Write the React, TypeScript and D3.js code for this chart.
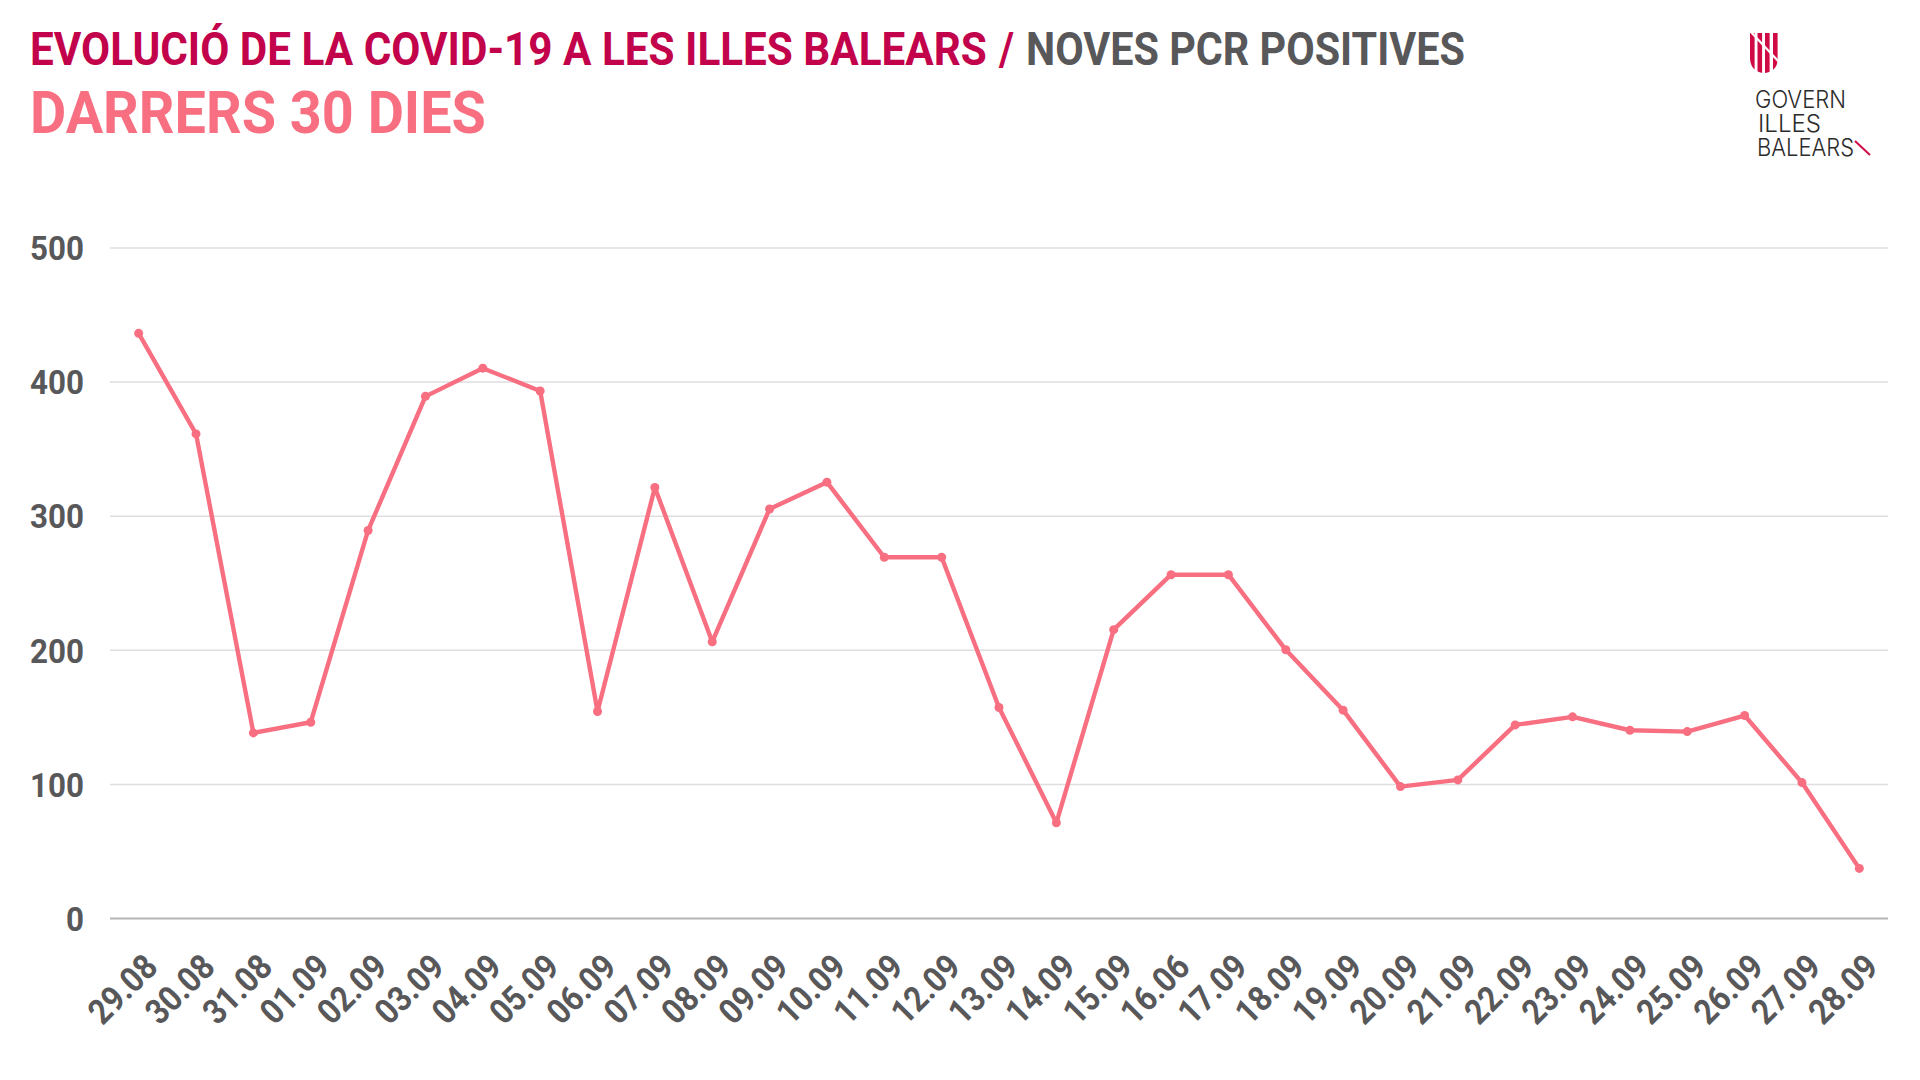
import React, { useRef, useEffect } from "react";
import * as d3 from "d3";

const days = [
  "29.08", "30.08", "31.08", "01.09", "02.09", "03.09", "04.09", "05.09",
  "06.09", "07.09", "08.09", "09.09", "10.09", "11.09", "12.09", "13.09",
  "14.09", "15.09", "16.06", "17.09", "18.09", "19.09", "20.09", "21.09",
  "22.09", "23.09", "24.09", "25.09", "26.09", "27.09", "28.09",
];
const newCases = [
  436, 361, 138, 146, 289, 389, 410, 393, 154, 321, 206, 305, 325, 269, 269,
  157, 71, 215, 256, 256, 200, 155, 98, 103, 144, 150, 140, 139, 151, 101, 37,
];
const yTicks = [0, 100, 200, 300, 400, 500];

const WIDTH = 1920;
const HEIGHT = 1080;
const FONT = "Roboto";
const PINK = "#f76f80";
const CRIMSON = "#c2024a";
const GREY = "#58585a";

// squeeze a text horizontally to the given width (the original uses a condensed DIN)
function fitText(
  node: SVGTextElement,
  width: number,
  before: string,
  after = ""
) {
  const len = node.getComputedTextLength();
  node.setAttribute(
    "transform",
    `${before} scale(${width / len},1) ${after}`.trim()
  );
}

function drawTitles(
  svg: d3.Selection<SVGSVGElement, unknown, null, undefined>
) {
  const titles: [string, number, number, number, number, string][] = [
    ["EVOLUCIÓ DE LA COVID-19 A LES ILLES BALEARS", 30, 65, 46, 957, CRIMSON],
    ["/", 999, 65, 46, 15, CRIMSON],
    ["NOVES PCR POSITIVES", 1026, 65, 46, 439, GREY],
    ["DARRERS 30 DIES", 30, 133, 59, 456, PINK],
  ];
  svg
    .append("g")
    .selectAll("text")
    .data(titles)
    .enter()
    .append("text")
    .attr("font-family", FONT)
    .attr("font-weight", 700)
    .attr("font-size", (d) => d[3])
    .attr("fill", (d) => d[5])
    .text((d) => d[0])
    .each(function (d) {
      fitText(this, d[4], `translate(${d[1]},${d[2]})`);
    });
}

function drawChart(svgElement: SVGSVGElement) {
  const margin = { top: 247.5, right: 32, bottom: 162, left: 110 };
  const svg = d3.select(svgElement);

  drawTitles(svg);

  const x = d3
    .scaleBand<string>()
    .domain(days)
    .range([margin.left, WIDTH - margin.right]);
  const y = d3
    .scaleLinear()
    .domain([0, 500])
    .range([HEIGHT - margin.bottom, margin.top]);

  const xCenter = (d: string) => (x(d) as number) + x.bandwidth() / 2;

  // grid + y labels
  const yAxis = svg
    .append("g")
    .attr("transform", `translate(${margin.left},0)`)
    .call(
      d3
        .axisLeft(y)
        .tickValues(yTicks)
        .tickSize(-(WIDTH - margin.left - margin.right))
        .tickPadding(0)
    );
  yAxis.select(".domain").remove();
  yAxis
    .selectAll<SVGLineElement, number>("line")
    .attr("stroke", (d) => (d === 0 ? "#b4b4b4" : "#dedede"))
    .attr("stroke-width", (d) => (d === 0 ? 2 : 1.5));
  yAxis
    .selectAll<SVGTextElement, number>("text")
    .attr("font-family", FONT)
    .attr("font-weight", 700)
    .attr("font-size", 34)
    .attr("fill", GREY)
    .attr("text-anchor", "end")
    .attr("x", 0)
    .attr("dy", "0.36em")
    .each(function (d) {
      fitText(this, String(d).length * 18, "translate(-26,0)");
    });

  // x labels
  const xAxis = svg
    .append("g")
    .attr("transform", `translate(0,${HEIGHT - margin.bottom})`)
    .call(d3.axisBottom(x).tickSize(0));
  xAxis.select(".domain").remove();
  xAxis
    .selectAll<SVGTextElement, string>("text")
    .attr("font-family", FONT)
    .attr("font-weight", 700)
    .attr("font-size", 35)
    .attr("fill", GREY)
    .attr("text-anchor", "end")
    .attr("x", 0)
    .attr("y", 0)
    .attr("dy", 0)
    .each(function () {
      fitText(this, 81, "translate(21,51) rotate(-45)");
    });

  // line
  const line = d3
    .line<number>()
    .x((_, i) => xCenter(days[i]))
    .y((d) => y(d));
  svg
    .append("path")
    .attr("d", line(newCases))
    .attr("fill", "none")
    .attr("stroke", PINK)
    .attr("stroke-width", 4.4)
    .attr("stroke-linejoin", "round");

  svg
    .append("g")
    .selectAll("circle")
    .data(newCases)
    .enter()
    .append("circle")
    .attr("cx", (_, i) => xCenter(days[i]))
    .attr("cy", (d) => y(d))
    .attr("r", 4.5)
    .attr("fill", PINK);
}

function Logo() {
  return (
    <g>
      <clipPath id="shield">
        <path d="M1750,33 H1778 V58 C1778,68 1771,73 1764,73 C1757,73 1750,68 1750,58 Z" />
      </clipPath>
      <g clipPath="url(#shield)">
        {[1750, 1757.5, 1765, 1773].map((bx) => (
          <rect key={bx} x={bx} y={33} width={4.6} height={40} fill="#cf0a45" />
        ))}
        <line x1={1750} y1={31} x2={1780} y2={63} stroke="#fff" strokeWidth={2.2} />
      </g>
      <text fontFamily="Inter" fontWeight={300} fontSize={24} fill="#2b2b2b">
        <tspan x={1755} y={108} textLength={91} lengthAdjust="spacingAndGlyphs">GOVERN</tspan>
        <tspan x={1758} y={132} textLength={63} lengthAdjust="spacingAndGlyphs">ILLES</tspan>
        <tspan x={1757} y={156} textLength={97} lengthAdjust="spacingAndGlyphs">BALEARS</tspan>
      </text>
      <line x1={1855} y1={141} x2={1870} y2={155} stroke="#cf0a45" strokeWidth={2} />
    </g>
  );
}

export default function App() {
  const chartRef = useRef<SVGSVGElement>(null);

  useEffect(() => {
    if (chartRef.current == null) {
      return;
    }
    chartRef.current.innerHTML = "";
    drawChart(chartRef.current);
  }, []);

  return (
    <svg
      width={WIDTH}
      height={HEIGHT}
      style={{ position: "absolute", left: 0, top: 0, background: "#fff" }}
    >
      <Logo />
      <g ref={chartRef as unknown as React.RefObject<SVGGElement>} />
    </svg>
  );
}
